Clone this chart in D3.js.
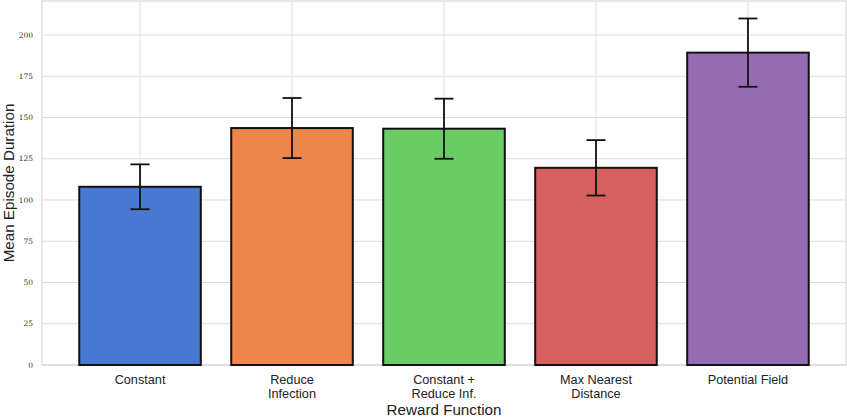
<!DOCTYPE html>
<html>
<head>
<meta charset="utf-8">
<script src="https://cdn.jsdelivr.net/npm/d3@7"></script>
<style>
  body { margin: 0; background: #fff; }
  svg { display: block; }
</style>
</head>
<body>
<div id="chart"></div>
<script>
// Chart data
const categories = ['Constant', 'Reduce\nInfection', 'Constant +\nReduce Inf.', 'Max Nearest\nDistance', 'Potential Field'];
const means = [108, 143.6, 143.2, 119.5, 189.3];
const errors = [13.6, 18.2, 18.2, 16.8, 20.7];
const colors = ['#4878d0', '#ee854a', '#6acc64', '#d65f5f', '#956cb4'];
const yTicks = [0, 25, 50, 75, 100, 125, 150, 175, 200];

const W = 847, H = 420;
const margin = { left: 42, right: 1, top: 1, bottom: 55 };

const svg = d3.select('#chart').append('svg')
    .attr('width', W)
    .attr('height', H);

const innerW = W - margin.left - margin.right;
const innerH = H - margin.top - margin.bottom;

const g = svg.append('g')
    .attr('transform', `translate(${margin.left},${margin.top})`);

// x positions: category index with matplotlib-style padding
const x = d3.scaleLinear()
    .domain([-0.645, categories.length - 1 + 0.645])
    .range([0, innerW]);
const barW = x(0.4) - x(-0.4);

const y = d3.scaleLinear()
    .domain([0, 220.6])
    .range([innerH, 0]);

// Grid lines
g.append('g').selectAll('line')
    .data(yTicks)
    .join('line')
    .attr('x1', 0).attr('x2', innerW)
    .attr('y1', d => y(d)).attr('y2', d => y(d))
    .attr('stroke', '#dcdcdc').attr('stroke-width', 1);

g.append('g').selectAll('line')
    .data(categories)
    .join('line')
    .attr('x1', (d, i) => x(i)).attr('x2', (d, i) => x(i))
    .attr('y1', 0).attr('y2', innerH)
    .attr('stroke', '#dcdcdc').attr('stroke-width', 1);

// Frame
g.append('rect')
    .attr('x', 0).attr('y', 0)
    .attr('width', innerW).attr('height', innerH)
    .attr('fill', 'none')
    .attr('stroke', '#d0d0d0').attr('stroke-width', 1);

// Bars
g.append('g').selectAll('rect')
    .data(means)
    .join('rect')
    .attr('x', (d, i) => x(i) - barW / 2)
    .attr('y', d => y(d))
    .attr('width', barW)
    .attr('height', d => y(0) - y(d))
    .attr('fill', (d, i) => colors[i])
    .attr('stroke', '#111').attr('stroke-width', 2);

// Error bars
const capW = 19;
const eb = g.append('g').selectAll('g')
    .data(means)
    .join('g');
eb.append('line')
    .attr('x1', (d, i) => x(i)).attr('x2', (d, i) => x(i))
    .attr('y1', (d, i) => y(d - errors[i])).attr('y2', (d, i) => y(d + errors[i]))
    .attr('stroke', '#111').attr('stroke-width', 1.8);
eb.append('line')
    .attr('x1', (d, i) => x(i) - capW / 2).attr('x2', (d, i) => x(i) + capW / 2)
    .attr('y1', (d, i) => y(d + errors[i])).attr('y2', (d, i) => y(d + errors[i]))
    .attr('stroke', '#111').attr('stroke-width', 1.8);
eb.append('line')
    .attr('x1', (d, i) => x(i) - capW / 2).attr('x2', (d, i) => x(i) + capW / 2)
    .attr('y1', (d, i) => y(d - errors[i])).attr('y2', (d, i) => y(d - errors[i]))
    .attr('stroke', '#111').attr('stroke-width', 1.8);

// Y tick labels
g.append('g').selectAll('text')
    .data(yTicks)
    .join('text')
    .attr('x', -9)
    .attr('y', d => y(d))
    .attr('dy', '0.35em')
    .attr('text-anchor', 'end')
    .style('font-family', '"DejaVu Serif", serif')
    .style('font-size', '7.5px')
    .style('fill', '#333')
    .text(d => d);

// X tick labels (may be two lines)
const xl = g.append('g').selectAll('text')
    .data(categories)
    .join('text')
    .attr('x', (d, i) => x(i))
    .attr('y', innerH + 19)
    .attr('text-anchor', 'middle')
    .style('font-family', '"Liberation Sans", Arial, sans-serif')
    .style('font-size', '12.7px')
    .style('fill', '#222');
xl.selectAll('tspan')
    .data(d => d.split('\n'))
    .join('tspan')
    .attr('x', function () { return d3.select(this.parentNode).attr('x'); })
    .attr('dy', (d, i) => i === 0 ? 0 : 14)
    .text(d => d);

// Axis titles
svg.append('text')
    .attr('x', margin.left + innerW / 2)
    .attr('y', 415)
    .attr('text-anchor', 'middle')
    .style('font-family', '"Liberation Sans", Arial, sans-serif')
    .style('font-size', '15.2px')
    .style('fill', '#222')
    .text('Reward Function');

svg.append('text')
    .attr('transform', `translate(14, ${margin.top + innerH / 2}) rotate(-90)`)
    .attr('text-anchor', 'middle')
    .style('font-family', '"Liberation Sans", Arial, sans-serif')
    .style('font-size', '15.2px')
    .style('fill', '#222')
    .text('Mean Episode Duration');
</script>
</body>
</html>
